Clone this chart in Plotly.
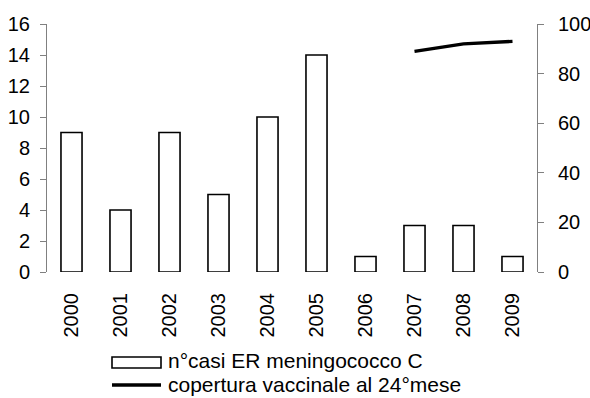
import plotly.graph_objects as go

years = ["2000", "2001", "2002", "2003", "2004", "2005", "2006", "2007", "2008", "2009"]
cases = [9, 4, 9, 5, 10, 14, 1, 3, 3, 1]
cov_years = ["2007", "2008", "2009"]
coverage = [89, 92, 93]
bar_name = "n°casi ER meningococco C"
line_name = "copertura vaccinale al 24°mese"

W, H = 590, 398
L, R, T, B = 47, 53, 24, 126
pw, ph = W - L - R, H - T - B

def px(x):
    return (x - L) / pw

def py(y):
    return (H - B - y) / ph

FONT = "Liberation Sans, Arial, sans-serif"
FS = 20

fig = go.Figure()
fig.add_trace(go.Bar(x=years, y=cases, name=bar_name, width=0.43,
                     marker=dict(color="white", line=dict(color="black", width=1.6)),
                     showlegend=False))
fig.add_trace(go.Scatter(x=cov_years, y=coverage, name=line_name, yaxis="y2",
                         mode="lines", line=dict(color="black", width=3.3),
                         showlegend=False))

# legend drawn manually to match the reference layout
fig.add_shape(type="rect", xref="paper", yref="paper",
              x0=px(112), x1=px(161), y0=py(368), y1=py(357),
              line=dict(color="black", width=1.6), fillcolor="white")
fig.add_shape(type="line", xref="paper", yref="paper",
              x0=px(112), x1=px(161), y0=py(385), y1=py(385),
              line=dict(color="black", width=3.3))
fig.add_annotation(text=bar_name, xref="paper", yref="paper", x=px(166), y=py(360),
                   xanchor="left", yanchor="middle", showarrow=False,
                   font=dict(family=FONT, size=21, color="black"))
fig.add_annotation(text=line_name, xref="paper", yref="paper", x=px(166), y=py(384),
                   xanchor="left", yanchor="middle", showarrow=False,
                   font=dict(family=FONT, size=21, color="black"))

fig.update_layout(
    width=W, height=H,
    margin=dict(l=L, r=R, t=T, b=B, autoexpand=False),
    plot_bgcolor="white", paper_bgcolor="white",
    font=dict(family=FONT, size=FS, color="black"),
    bargap=0.57,
    xaxis=dict(type="category", range=[-0.5, 9.5], showline=False, showgrid=False,
               tickangle=-90, ticks="", ticklabelstandoff=16, zeroline=False,
               automargin=False),
    yaxis=dict(range=[0, 16], dtick=2, showgrid=False, zeroline=False,
               showline=True, linecolor="#808080", linewidth=1,
               ticks="outside", ticklen=6, tickcolor="#808080", ticklabelstandoff=6,
               automargin=False),
    yaxis2=dict(range=[0, 100], dtick=20, overlaying="y", side="right",
                showgrid=False, zeroline=False,
                showline=True, linecolor="#808080", linewidth=1,
                ticks="outside", ticklen=6, tickcolor="#808080", ticklabelstandoff=10,
                automargin=False),
)

fig.write_html("out.html", config={"displayModeBar": False},
               post_script="document.body.style.margin='0';document.body.style.overflow='hidden';")
